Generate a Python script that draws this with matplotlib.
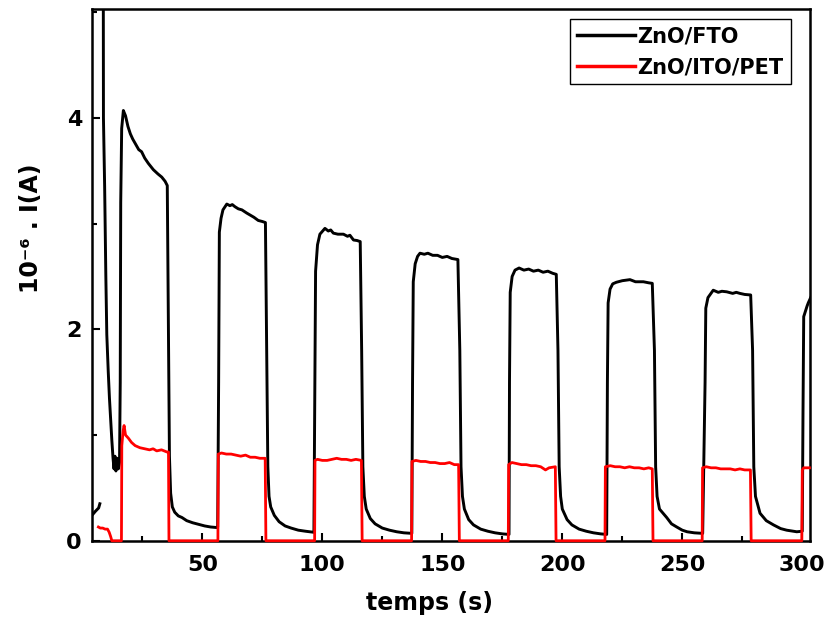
import numpy as np
import matplotlib
matplotlib.use("Agg")
import matplotlib.pyplot as plt
from matplotlib.ticker import MultipleLocator

nan = np.nan

# ZnO/FTO photocurrent (10^-6 A) vs time (s)
fto_t = [4.0, 5.5, 6.8, 7.3, nan,
         8.6, 8.75, 8.8, 9.3, 9.8, 10.2, 10.8, 11.3, 11.8, 12.3, 12.8, 13.2, 13.6, 14.0, 14.5, 15.0, 15.5,
         15.8, 16.0, 16.4, 17.1, 18.0, 19.0, 20.0, 21.0, 22.0, 23.5, 24.7, 26.0, 27.5, 29.6, 31.5, 33.1, 34.5, 35.4,
         35.9, 36.3, 36.8, 37.5, 38.5, 40.0, 41.5, 43.5, 46.0, 48.5, 51.0, 53.5, 56.0,
         56.4, 56.8, 57.1, 57.8, 58.6, 60.2, 61.5, 62.5, 63.6, 65.0, 66.5, 68.5, 70.0, 71.5, 73.3, 75.0, 76.3,
         76.8, 77.3, 77.8, 78.5, 80.0, 82.0, 84.5, 87.0, 90.0, 93.0, 96.5,
         96.9, 97.2, 98.0, 99.0, 101.1, 102.5, 103.5, 104.6, 106.5, 108.8, 110.5, 111.5, 113.0, 114.5, 115.8,
         116.4, 116.9, 117.5, 118.3, 120.0, 122.0, 125.0, 128.0, 131.0, 134.0, 137.3,
         137.6, 137.9, 138.7, 139.7, 140.7, 142.5, 144.0, 146.0, 148.0, 150.0, 152.0, 154.0, 156.5,
         157.3, 157.8, 158.4, 159.2, 161.0, 163.0, 166.0, 169.0, 172.0, 175.0, 177.8,
         178.0, 178.3, 179.1, 180.3, 182.0, 184.0, 186.0, 188.0, 190.0, 192.0, 194.0, 196.0, 197.5,
         198.2, 198.7, 199.3, 200.0, 202.0, 204.0, 207.0, 210.0, 213.0, 216.0, 218.5,
         218.8, 219.1, 219.9, 221.0, 222.5, 225.0, 228.2, 230.5, 233.8, 236.0, 237.5,
         238.4, 238.9, 239.5, 240.5, 243.5, 245.5, 247.7, 250.0, 252.0, 255.0, 258.5,
         259.5, 259.8, 260.7, 262.9, 265.0, 266.5, 268.5, 271.0, 272.5, 274.0, 276.0, 278.5,
         279.3, 279.8, 280.5, 282.4, 285.0, 288.0, 291.0, 293.5, 297.7, 300.0,
         300.3, 300.6, 302.0, 302.5, 303.5]
fto_i = [0.24, 0.28, 0.31, 0.35, nan,
         5.6, 5.0, 4.0, 3.35, 2.5, 1.95, 1.6, 1.35, 1.15, 0.95, 0.78, 0.68, 0.80, 0.66, 0.78, 0.68, 0.74,
         1.5, 3.2, 3.9, 4.07, 4.02, 3.92, 3.85, 3.80, 3.76, 3.70, 3.68, 3.62, 3.57, 3.51, 3.47, 3.44, 3.40, 3.36,
         2.0, 0.8, 0.45, 0.32, 0.27, 0.235, 0.22, 0.19, 0.17, 0.155, 0.14, 0.13, 0.125,
         0.13, 1.5, 2.92, 3.05, 3.13, 3.185, 3.17, 3.18, 3.16, 3.14, 3.13, 3.10, 3.08, 3.06, 3.03, 3.02, 3.01,
         1.8, 0.7, 0.42, 0.32, 0.24, 0.18, 0.14, 0.12, 0.10, 0.09, 0.08,
         1.5, 2.55, 2.80, 2.90, 2.955, 2.93, 2.94, 2.91, 2.90, 2.90, 2.88, 2.89, 2.845, 2.84, 2.83,
         1.8, 0.7, 0.42, 0.30, 0.21, 0.16, 0.12, 0.10, 0.085, 0.075, 0.07,
         1.5, 2.45, 2.62, 2.69, 2.72, 2.71, 2.72, 2.70, 2.70, 2.68, 2.69, 2.67, 2.66,
         1.8, 0.7, 0.42, 0.30, 0.20, 0.15, 0.11, 0.09, 0.075, 0.065, 0.06,
         1.5, 2.35, 2.50, 2.56, 2.58, 2.56, 2.57, 2.55, 2.56, 2.54, 2.55, 2.53, 2.52,
         1.8, 0.7, 0.42, 0.30, 0.20, 0.15, 0.11, 0.09, 0.075, 0.065, 0.06,
         1.5, 2.25, 2.38, 2.43, 2.445, 2.46, 2.47, 2.45, 2.45, 2.44, 2.435,
         1.8, 0.7, 0.42, 0.30, 0.22, 0.16, 0.13, 0.10, 0.085, 0.075, 0.07,
         1.5, 2.20, 2.30, 2.37, 2.35, 2.36, 2.355, 2.34, 2.35, 2.34, 2.33, 2.325,
         1.8, 0.7, 0.42, 0.26, 0.19, 0.15, 0.115, 0.10, 0.085, 0.09,
         1.2, 2.12, 2.22, 2.25, 2.30]

# ZnO/ITO/PET photocurrent
pet_t = [6.7, 7.5, 8.5, 9.5, 10.5, 11.2, 11.8, 12.3, 16.3,
         16.45, 17.0, 17.4, 18.0, 19.2, 20.5, 22.0, 24.0, 26.0, 28.0, 29.5, 31.0, 33.0, 35.2, 35.9, 36.1, 56.5,
         56.65, 58.0, 60.0, 62.0, 64.0, 66.0, 68.0, 70.0, 72.0, 74.0, 76.2, 76.5, 96.8,
         96.95, 98.0, 100.0, 102.0, 104.0, 106.0, 108.0, 110.0, 112.0, 114.0, 116.3, 116.6, 137.2,
         137.35, 139.0, 141.0, 143.0, 145.0, 147.0, 149.0, 151.0, 153.0, 155.0, 156.8, 157.1, 177.5,
         177.65, 179.0, 181.0, 183.0, 185.0, 187.0, 189.0, 191.0, 193.0, 194.5, 197.1, 197.4, 217.8,
         217.95, 220.0, 222.0, 224.0, 226.0, 228.0, 230.0, 232.0, 234.0, 236.0, 237.5, 237.8, 258.3,
         258.45, 260.0, 262.0, 264.0, 266.0, 268.0, 270.0, 272.0, 274.0, 276.0, 278.4, 278.7, 299.8,
         300.0, 300.6, 301.5, 303.0]
pet_i = [0.13, 0.12, 0.12, 0.11, 0.11, 0.08, 0.04, 0.0, 0.0,
         0.90, 1.04, 1.09, 1.00, 0.97, 0.93, 0.90, 0.88, 0.87, 0.86, 0.87, 0.85, 0.86, 0.84, 0.84, 0.0, 0.0,
         0.82, 0.83, 0.82, 0.82, 0.81, 0.80, 0.81, 0.79, 0.79, 0.78, 0.78, 0.0, 0.0,
         0.76, 0.77, 0.76, 0.76, 0.77, 0.78, 0.77, 0.77, 0.76, 0.77, 0.76, 0.0, 0.0,
         0.75, 0.76, 0.75, 0.75, 0.74, 0.74, 0.73, 0.73, 0.74, 0.72, 0.72, 0.0, 0.0,
         0.72, 0.74, 0.73, 0.72, 0.72, 0.71, 0.71, 0.70, 0.67, 0.69, 0.70, 0.0, 0.0,
         0.70, 0.71, 0.70, 0.70, 0.69, 0.70, 0.69, 0.69, 0.68, 0.69, 0.68, 0.0, 0.0,
         0.69, 0.70, 0.69, 0.69, 0.68, 0.68, 0.68, 0.67, 0.68, 0.67, 0.67, 0.0, 0.0,
         0.67, 0.69, 0.69, 0.69]

plt.rcParams["font.family"] = "DejaVu Sans"
plt.rcParams["font.weight"] = "bold"

fig = plt.figure(figsize=(8.35, 6.18), dpi=100)
ax = fig.add_axes([0.1098, 0.125, 0.8602, 0.8604])

ax.plot(fto_t, fto_i, color="black", lw=2.1, label="ZnO/FTO", zorder=2)
ax.plot(pet_t, pet_i, color="#ff0000", lw=2.0, label="ZnO/ITO/PET", zorder=3, clip_on=False)

ax.set_xlim(3.9, 303.2)
ax.set_ylim(0, 5.03)
ax.xaxis.set_major_locator(MultipleLocator(50))
ax.xaxis.set_minor_locator(MultipleLocator(25))
ax.yaxis.set_major_locator(MultipleLocator(2))
ax.yaxis.set_minor_locator(MultipleLocator(1))
ax.tick_params(which="both", direction="in", width=1.5, labelsize=16)
ax.tick_params(which="major", length=6)
ax.tick_params(which="minor", length=3.5)
ax.tick_params(axis="x", pad=10)
ax.tick_params(axis="y", pad=7)
for s in ax.spines.values():
    s.set_linewidth(1.8)

ax.set_xlabel("temps (s)", fontsize=17, fontweight="bold")
ax.xaxis.set_label_coords(0.47, -0.095)
ax.set_ylabel("10\u207b\u2076 . I(A)", fontsize=17, fontweight="bold")
ax.yaxis.set_label_coords(-0.068, 0.588)

leg = ax.legend(loc="upper right", bbox_to_anchor=(0.9731, 0.9806), borderaxespad=0,
                fancybox=False, edgecolor="black", framealpha=1, fontsize=15,
                handlelength=2.8, handletextpad=0.1, borderpad=0.35, labelspacing=0.5)
leg.get_frame().set_linewidth(1.0)
for line in leg.get_lines():
    line.set_linewidth(2.5)

fig.savefig("out.png", dpi=100)
